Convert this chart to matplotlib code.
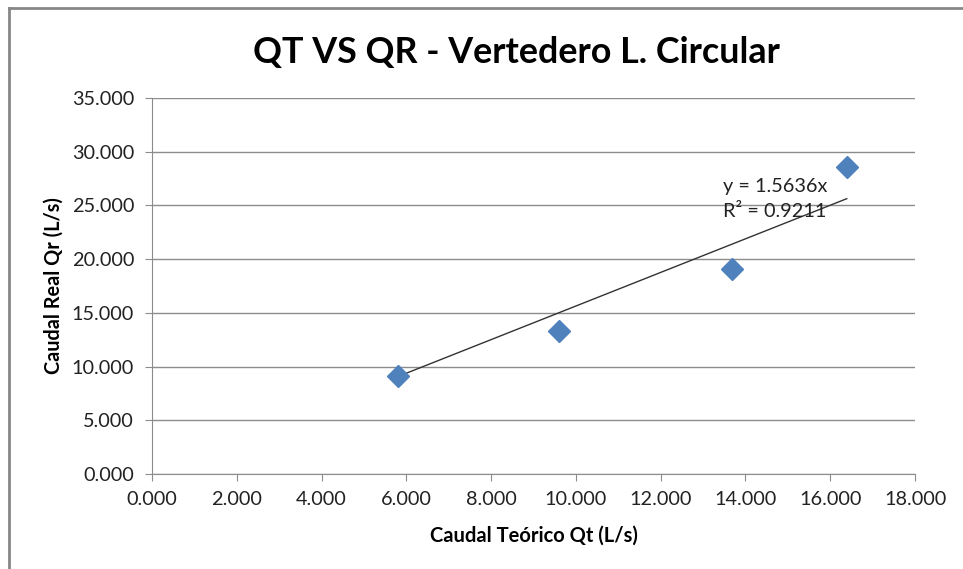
import matplotlib.pyplot as plt
from matplotlib.lines import Line2D
from matplotlib.ticker import FuncFormatter, MultipleLocator
import numpy as np

# Caudal teórico vs caudal real, vertedero de lámina circular
qt = [5.80, 9.60, 13.68, 16.39]
qr = [9.12, 13.31, 19.09, 28.58]
slope = 1.5636
r2 = 0.9211

plt.rcParams['font.family'] = ['Lato', 'DejaVu Sans']

fig = plt.figure(figsize=(9.63, 5.69), dpi=100)
ax = fig.add_axes([152/963, 95/569, 763/963, 376/569])

ax.set_xlim(0, 18)
ax.set_ylim(0, 35)
ax.xaxis.set_major_locator(MultipleLocator(2))
ax.yaxis.set_major_locator(MultipleLocator(5))
fmt = FuncFormatter(lambda v, p: '{:.3f}'.format(v))
ax.xaxis.set_major_formatter(fmt)
ax.yaxis.set_major_formatter(fmt)

ax.grid(axis='y', color='#8c8c8c', linewidth=1)
ax.set_axisbelow(True)
for s in ['top', 'right']:
    ax.spines[s].set_visible(False)
for s in ['left', 'bottom']:
    ax.spines[s].set_color('#8c8c8c')
ax.tick_params(colors='#8c8c8c', labelcolor='#222222', labelsize=14.3, length=5)
ax.tick_params(axis='x', pad=7)
ax.tick_params(axis='y', pad=8)

# línea de tendencia por el origen
xt = np.array([min(qt), max(qt)])
ax.plot(xt, slope * xt, color='#333333', linewidth=1)
ax.plot(qt, qr, 'D', color='#4f81bd', markersize=11, linestyle='none')

ax.text(13.48, 26.8, 'y = 1.5636x', fontsize=14.3, color='#222222', va='center')
ax.text(13.48, 24.4, 'R² = {:.4f}'.format(r2), fontsize=14.3, color='#222222', va='center')

ax.set_xlabel('Caudal Teórico Qt (L/s)', fontsize=14.5, fontweight='bold', labelpad=13)
ax.set_ylabel('Caudal Real Qr (L/s)', fontsize=14.3, fontweight='bold', labelpad=6)
fig.text(0.536, 0.908, 'QT VS QR - Vertedero L. Circular', fontsize=25.8, fontweight='bold',
         ha='center', va='center')

# marco del gráfico
fig.add_artist(Line2D([8.5/963, 8.5/963], [0, 1 - 8/569], color='#878787', linewidth=2))
fig.add_artist(Line2D([8.5/963, 1], [1 - 8/569, 1 - 8/569], color='#878787', linewidth=2))

fig.savefig('out.png', dpi=100)
